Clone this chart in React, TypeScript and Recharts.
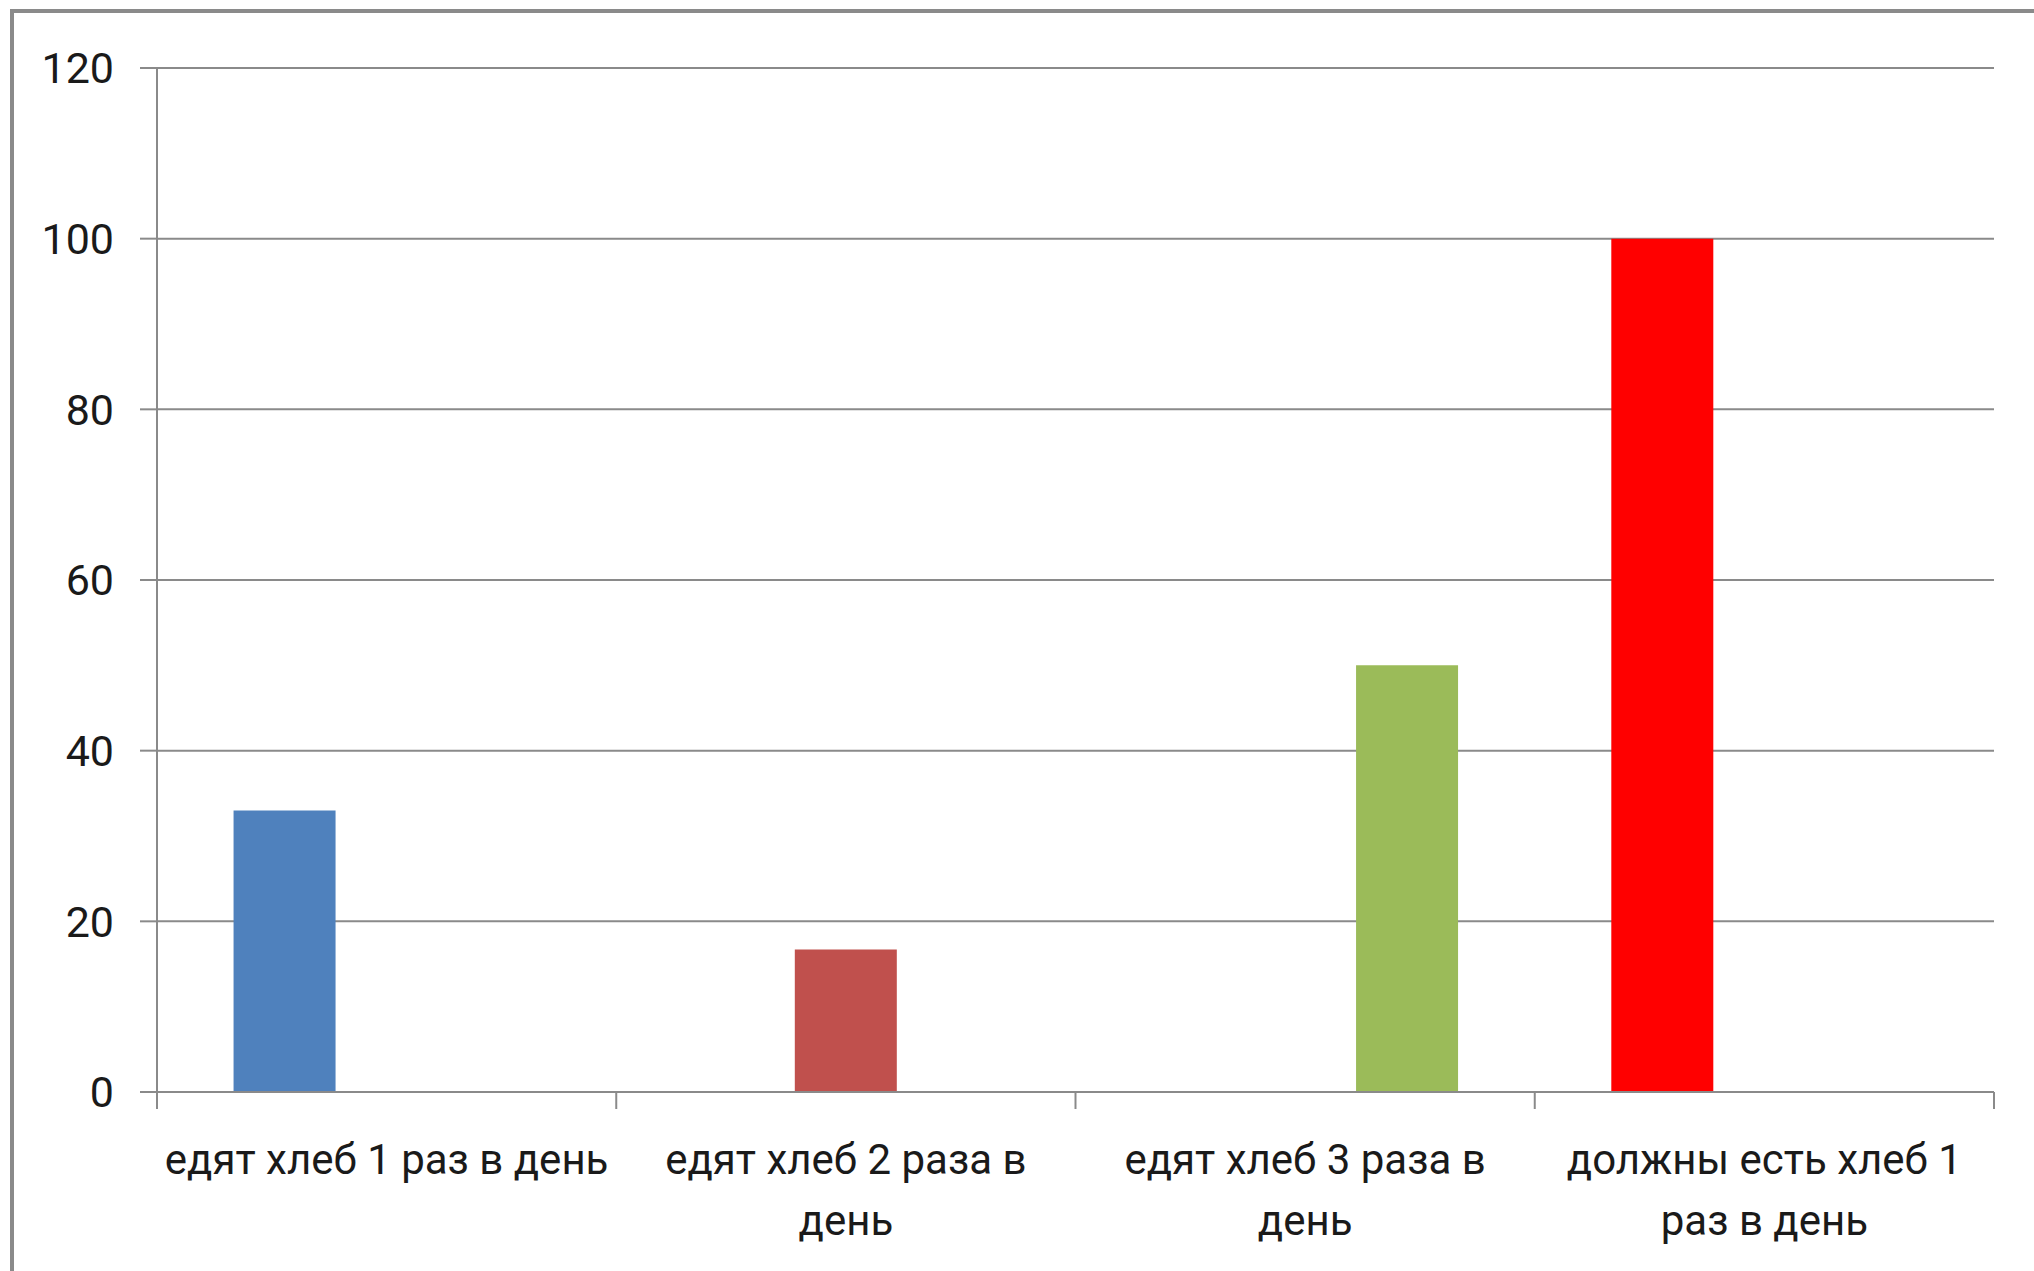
import React from 'react';
import { BarChart, Bar, XAxis, YAxis, CartesianGrid, Cell } from 'recharts';

// categories and values
const categories = [
  'едят хлеб 1 раз в день',
  'едят хлеб 2 раза в день',
  'едят хлеб 3 раза в день',
  'должны есть хлеб 1 раз в день',
];
const series1 = [33, null, null, 100];
const series2 = [null, 16.7, null, null];
const series3 = [null, null, 50, null];
const yTicks = [0, 20, 40, 60, 80, 100, 120];

const series1Colors = ['#4F81BD', '#4F81BD', '#4F81BD', '#FF0000'];

const W = 2034;
const H = 1271;
const GRID = '#8a8a8a';
const FONT = 'Roboto, "Noto Sans", sans-serif';
const LABEL_SIZE = 42;

const chartData = categories.map((name, i) => ({
  name,
  s1: series1[i],
  s2: series2[i],
  s3: series3[i],
}));

let ctx: CanvasRenderingContext2D | null = null;
const wrapWords = (text: string, maxWidth: number) => {
  if (!ctx) ctx = document.createElement('canvas').getContext('2d');
  if (!ctx) return [text];
  ctx.font = `${LABEL_SIZE}px ${FONT}`;
  const lines: string[] = [];
  let cur = '';
  text.split(' ').forEach(w => {
    const next = cur ? cur + ' ' + w : w;
    if (cur && ctx!.measureText(next).width > maxWidth) {
      lines.push(cur);
      cur = w;
    } else {
      cur = next;
    }
  });
  if (cur) lines.push(cur);
  return lines;
};

const CategoryTick = (props: any) => {
  const { x, y, payload, index } = props;
  const half = payload.offset ?? 0;
  const lines = wrapWords(String(payload.value), half * 2 + 4);
  return (
    <g>
      <line x1={x - half} y1={y} x2={x - half} y2={y + 17} stroke={GRID} strokeWidth={2} />
      {index === categories.length - 1 && (
        <line x1={x + half} y1={y} x2={x + half} y2={y + 17} stroke={GRID} strokeWidth={2} />
      )}
      <text x={x} y={y + 82} textAnchor="middle" fontSize={LABEL_SIZE} fontFamily={FONT} fill="#1a1a1a">
        {lines.map((l, i) => (
          <tspan key={i} x={x} dy={i === 0 ? 0 : 61}>
            {l}
          </tspan>
        ))}
      </text>
    </g>
  );
};

export default function App() {
  return (
    <div style={{ position: 'absolute', left: 0, top: 0, width: W, height: H, overflow: 'hidden', background: '#fff' }}>
      <div
        style={{
          position: 'absolute',
          left: 10,
          top: 9,
          width: 2200,
          height: 1400,
          border: '4px solid #8a8a8a',
          boxSizing: 'border-box',
        }}
      />
      <div style={{ position: 'absolute', left: 0, top: 0 }}>
        <BarChart
          width={W}
          height={H}
          data={chartData}
          margin={{ top: 68, right: 40, left: 0, bottom: 0 }}
          barCategoryGap="16.67%"
          barGap={0}
        >
          <CartesianGrid vertical={false} stroke={GRID} strokeWidth={2} />
          <XAxis
            dataKey="name"
            height={179}
            tickSize={0}
            tickMargin={0}
            axisLine={{ stroke: GRID, strokeWidth: 2 }}
            tickLine={false}
            interval={0}
            tick={<CategoryTick />}
          />
          <YAxis
            width={157}
            domain={[0, 120]}
            ticks={yTicks}
            tickSize={17}
            tickMargin={26}
            axisLine={{ stroke: GRID, strokeWidth: 2 }}
            tickLine={{ stroke: GRID, strokeWidth: 2 }}
            tick={{ fontSize: 43, fontFamily: FONT, fill: '#1a1a1a' }}
          />
          <Bar dataKey="s1" isAnimationActive={false}>
            {chartData.map((_, i) => (
              <Cell key={i} fill={series1Colors[i]} />
            ))}
          </Bar>
          <Bar dataKey="s2" fill="#C0504D" isAnimationActive={false} />
          <Bar dataKey="s3" fill="#9BBB59" isAnimationActive={false} />
        </BarChart>
      </div>
    </div>
  );
}
